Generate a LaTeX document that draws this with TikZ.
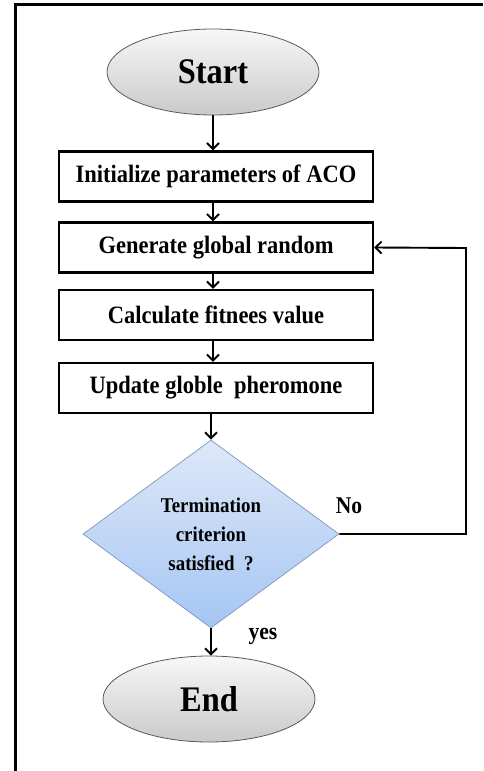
\documentclass[tikz,border=0pt]{standalone}
\usepackage{fontspec}
\setmainfont{Liberation Serif}[FakeStretch=0.9]
\usetikzlibrary{arrows.meta,shapes.geometric}
\definecolor{decTop}{RGB}{222,232,248}
\definecolor{decBot}{RGB}{165,198,243}
\definecolor{decLine}{RGB}{125,150,190}

\tikzset{
  terminal/.style={ellipse, draw=black!65, line width=0.8pt, top color=gray!6, bottom color=gray!42,
    minimum width=212pt, minimum height=86pt, inner sep=0pt, font=\fontsize{36}{40}\selectfont\bfseries},
  stepbox/.style={rectangle, draw, line width=2.4pt, fill=white, minimum width=314pt,
    minimum height=50pt, inner sep=0pt, font=\fontsize{25}{28}\selectfont\bfseries},
  decision/.style={diamond, draw=decLine, line width=0.7pt, top color=decTop,
    bottom color=decBot, minimum width=256pt, minimum height=188pt, inner sep=0pt,
    align=center, font=\fontsize{21}{29}\selectfont\bfseries},
  flow/.style={-{Straight Barb[length=6pt,width=12pt]}, line width=1.9pt},
  lbl/.style={font=\fontsize{24}{26}\selectfont\bfseries, inner sep=0pt}
}

\begin{document}
\begin{tikzpicture}[x=1pt,y=-1pt]
    \useasboundingbox (0,0) rectangle (483,771);

    % frame
    \draw[line width=3pt] (15,771) -- (15,4) -- (483,4);

    % nodes
    \node[terminal] (start) at (213,72) {Start};
    \node[stepbox] (init) at (216,176.5) {Initialize parameters of ACO};
    \node[stepbox] (gen) at (216,247.5) {Generate global random};
    \node[stepbox] (calc) at (216,315) {Calculate fitnees value};
    \node[stepbox] (upd) at (216,388) {Update globle\ \ pheromone};
    \node[decision] (term) at (211,534) {Termination\\criterion\\satisfied\ \ ?};
    \node[terminal] (end) at (209,699) {End};

    \node[lbl] (nolbl) at (349,506) {No};
    \node[lbl] (yeslbl) at (263,636) {yes};
    \coordinate (loop) at (466,248);

    % connectors
    \draw[flow] (start.south) -- (start.south |- init.north);
    \draw[flow] (init.south -| start.south) -- (start.south |- gen.north);
    \draw[flow] (gen.south -| start.south) -- (start.south |- calc.north);
    \draw[flow] (calc.south -| start.south) -- (start.south |- upd.north);
    \draw[flow] (upd.south -| term.north) -- (term.north);
    \draw[flow] (term.south) -- (term.south |- end.north);
    \draw[flow] (term.east) -- (term.east -| loop) -- (loop) -- (gen.east);
\end{tikzpicture}
\end{document}
